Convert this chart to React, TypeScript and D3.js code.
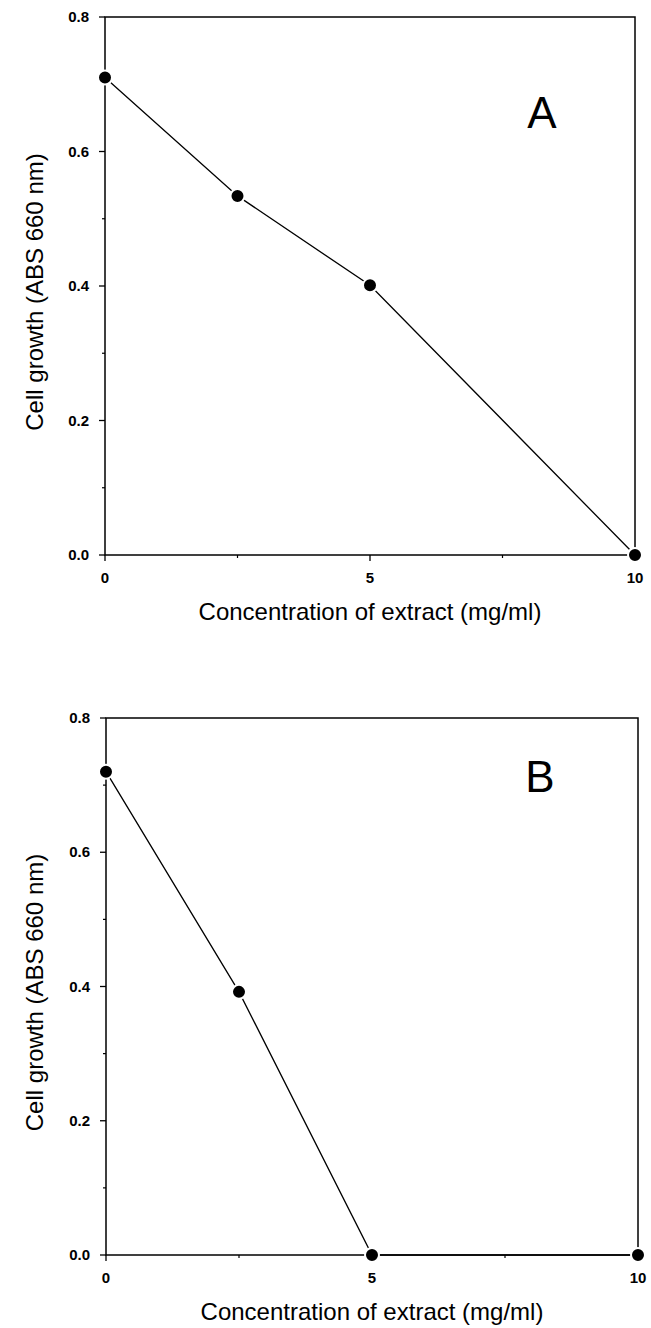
import React from 'react';
import * as d3 from 'd3';

// values
const concentration = [0, 2.5, 5, 10];
const growthA = [0.71, 0.534, 0.401, 0.0];
const growthB = [0.72, 0.392, 0.0, 0.0];
const xMajorTicks = [0, 5, 10];
const xMinorTicks = [2.5, 7.5];
const yMajorTicks = [0, 0.2, 0.4, 0.6, 0.8];
const yMinorTicks = [0.1, 0.3, 0.5, 0.7];
const panelLabels = ['A', 'B'];

const FONT = '"Liberation Sans", Arial, sans-serif';

type PanelProps = {
  values: number[];
  label: string;
  left: number;
  right: number;
  top: number;
  bottom: number;
  labelX: number;
  labelY: number;
};

function Panel({ values, label, left, right, top, bottom, labelX, labelY }: PanelProps) {
  const x = d3.scaleLinear().domain([0, 10]).range([left, right]);
  const y = d3.scaleLinear().domain([0, 0.8]).range([bottom, top]);
  const line = d3
    .line<number>()
    .x((d, i) => x(concentration[i]))
    .y((d) => y(d));

  return (
    <g>
      {/* frame */}
      <rect x={left} y={top} width={right - left} height={bottom - top} fill="none" stroke="#000" strokeWidth={1.5} />

      {/* x ticks */}
      {xMajorTicks.map((t) => (
        <g key={'xm' + t}>
          <line x1={x(t)} x2={x(t)} y1={bottom} y2={bottom + 6} stroke="#000" strokeWidth={1.3} />
          <text x={x(t)} y={bottom + 28} textAnchor="middle" fontSize={15} fontWeight="bold" fontFamily={FONT}>
            {t}
          </text>
        </g>
      ))}
      {xMinorTicks.map((t) => (
        <line key={'xn' + t} x1={x(t)} x2={x(t)} y1={bottom} y2={bottom + 3} stroke="#000" strokeWidth={1.2} />
      ))}

      {/* y ticks */}
      {yMajorTicks.map((t) => (
        <g key={'ym' + t}>
          <line x1={left - 6} x2={left} y1={y(t)} y2={y(t)} stroke="#000" strokeWidth={1.3} />
          <text x={left - 16} y={y(t) + 5} textAnchor="end" fontSize={15} fontWeight="bold" fontFamily={FONT}>
            {t.toFixed(1)}
          </text>
        </g>
      ))}
      {yMinorTicks.map((t) => (
        <line key={'yn' + t} x1={left - 3} x2={left} y1={y(t)} y2={y(t)} stroke="#000" strokeWidth={1.2} />
      ))}

      {/* data */}
      <path d={line(values) || ''} fill="none" stroke="#000" strokeWidth={1.3} />
      {values.map((v, i) => (
        <circle key={'p' + i} cx={x(concentration[i])} cy={y(v)} r={7} fill="#000" stroke="#fff" strokeWidth={2} />
      ))}

      {/* titles */}
      <text
        x={(left + right) / 2}
        y={bottom + 65}
        textAnchor="middle"
        fontSize={24}
        fontFamily={FONT}
      >
        Concentration of extract (mg/ml)
      </text>
      <text
        transform={`translate(43,${(top + bottom) / 2 + 6}) rotate(-90)`}
        textAnchor="middle"
        fontSize={24}
        fontFamily={FONT}
      >
        Cell growth (ABS 660 nm)
      </text>
      <text x={labelX} y={labelY} textAnchor="middle" fontSize={44} fontFamily={FONT}>
        {label}
      </text>
    </g>
  );
}

export default function App() {
  return (
    <svg
      width={651}
      height={1328}
      style={{ position: 'absolute', left: 0, top: 0, background: '#fff' }}
    >
      <rect width={651} height={1328} fill="#fff" />
      <Panel values={growthA} label={panelLabels[0]} left={105} right={635} top={17} bottom={555} labelX={542} labelY={128} />
      <Panel values={growthB} label={panelLabels[1]} left={106} right={638} top={718} bottom={1255} labelX={540} labelY={792} />
    </svg>
  );
}
